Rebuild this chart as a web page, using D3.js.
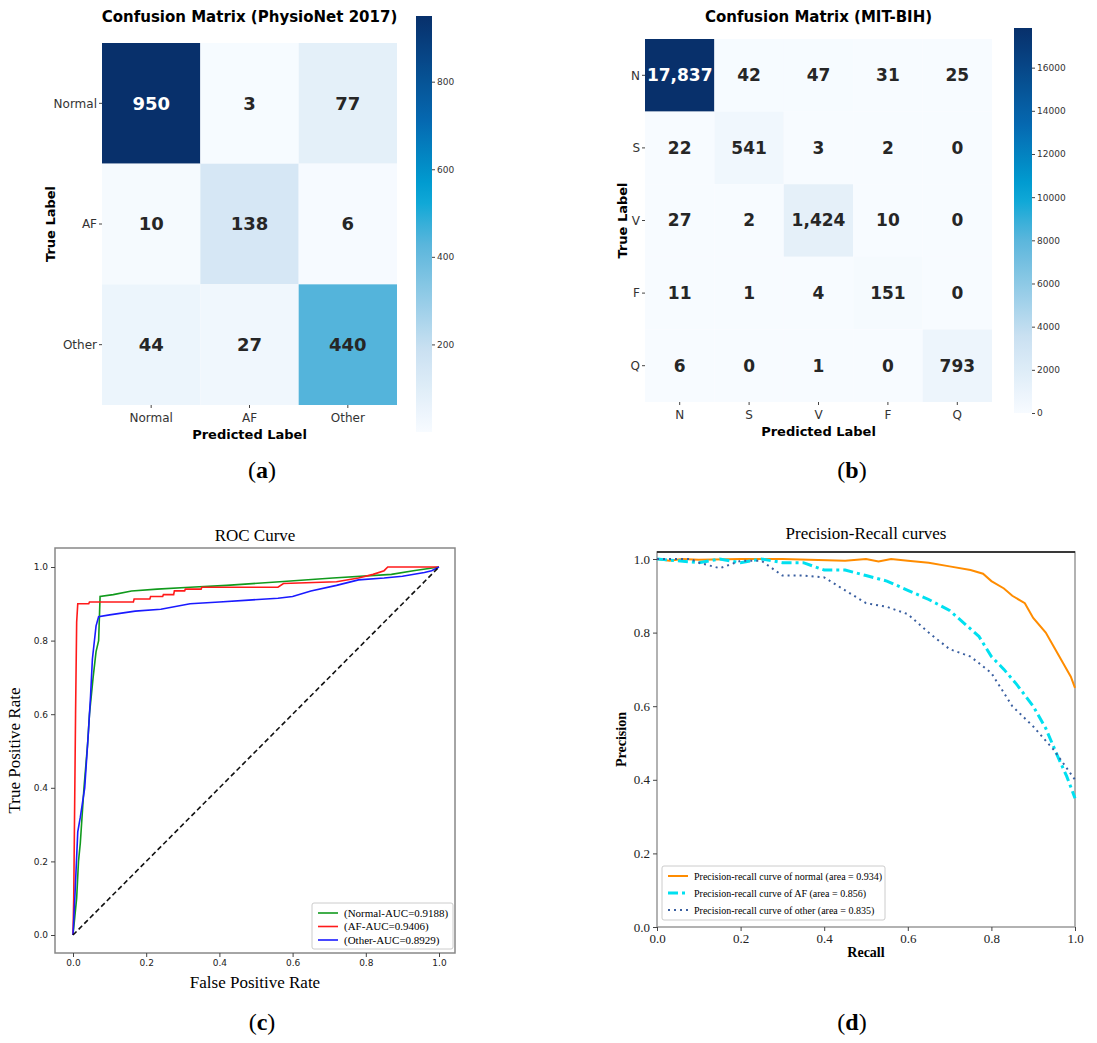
<!DOCTYPE html>
<html>
<head>
<meta charset="utf-8">
<script src="https://d3js.org/d3.v7.min.js"></script>
<style>
  body { margin: 0; background: #fff; }
  .sans { font-family: "DejaVu Sans", sans-serif; }
  .serif { font-family: "Liberation Serif", "Times New Roman", serif; }
</style>
</head>
<body>
<script>
// ---- data ----
var physioLabels = ["Normal", "AF", "Other"];
var physioMatrix = [[950, 3, 77], [10, 138, 6], [44, 27, 440]];
var physioTicks = [200, 400, 600, 800];

var mitLabels = ["N", "S", "V", "F", "Q"];
var mitMatrix = [
  [17837, 42, 47, 31, 25],
  [22, 541, 3, 2, 0],
  [27, 2, 1424, 10, 0],
  [11, 1, 4, 151, 0],
  [6, 0, 1, 0, 793]];
var mitTicks = [0, 2000, 4000, 6000, 8000, 10000, 12000, 14000, 16000];

var rocNormal = [[0,0],[0.005,0.05],[0.01,0.1],[0.015,0.2],[0.02,0.25],[0.03,0.4],[0.04,0.52],[0.045,0.6],[0.055,0.7],[0.063,0.77],[0.07,0.8],[0.074,0.92],[0.11,0.925],[0.16,0.935],[0.23,0.94],[0.32,0.945],[0.42,0.95],[0.565,0.96],[0.71,0.97],[0.87,0.98],[0.93,0.99],[1,1]];
var rocAF = [[0,0],[0.002,0.1],[0.004,0.3],[0.007,0.6],[0.01,0.85],[0.013,0.9],[0.043,0.9],[0.045,0.905],[0.165,0.905],[0.167,0.913],[0.21,0.913],[0.212,0.92],[0.245,0.92],[0.247,0.925],[0.275,0.925],[0.277,0.935],[0.305,0.935],[0.307,0.94],[0.35,0.94],[0.352,0.945],[0.56,0.945],[0.575,0.955],[0.72,0.96],[0.78,0.97],[0.82,0.98],[0.85,0.99],[0.86,1],[1,1]];
var rocOther = [[0,0],[0.005,0.1],[0.013,0.28],[0.02,0.32],[0.032,0.4],[0.042,0.55],[0.048,0.65],[0.053,0.75],[0.063,0.84],[0.07,0.865],[0.1,0.87],[0.17,0.88],[0.24,0.885],[0.32,0.9],[0.4,0.905],[0.48,0.91],[0.56,0.915],[0.6,0.92],[0.65,0.935],[0.72,0.95],[0.78,0.965],[0.85,0.97],[0.9,0.975],[0.96,0.985],[0.98,0.99],[1,1]];
var rocChance = [[0,0],[1,1]];

var prNormal = [[0,1],[0.03,0.995],[0.06,1],[0.1,0.998],[0.2,1],[0.3,1],[0.45,0.995],[0.5,1],[0.53,0.993],[0.56,1],[0.6,0.995],[0.65,0.99],[0.7,0.98],[0.75,0.97],[0.78,0.96],[0.8,0.94],[0.83,0.92],[0.85,0.9],[0.88,0.88],[0.9,0.84],[0.93,0.8],[0.95,0.76],[0.97,0.72],[0.99,0.68],[1,0.65]];
var prAF = [[0,1],[0.1,0.99],[0.15,1],[0.2,0.99],[0.25,1],[0.3,0.99],[0.35,0.99],[0.4,0.97],[0.45,0.97],[0.5,0.955],[0.55,0.94],[0.6,0.915],[0.65,0.89],[0.7,0.86],[0.75,0.81],[0.77,0.79],[0.8,0.735],[0.83,0.7],[0.86,0.66],[0.9,0.6],[0.93,0.54],[0.96,0.46],[0.98,0.41],[1,0.35]];
var prOther = [[0,1],[0.08,1],[0.1,0.99],[0.15,0.975],[0.2,0.995],[0.25,0.995],[0.3,0.955],[0.35,0.955],[0.4,0.95],[0.45,0.915],[0.5,0.88],[0.55,0.87],[0.6,0.85],[0.65,0.8],[0.7,0.755],[0.75,0.735],[0.8,0.69],[0.85,0.6],[0.9,0.545],[0.95,0.48],[1,0.4]];

var svg = d3.select("body").append("svg").attr("width", 1097).attr("height", 1043);

var cmap = d3.scaleLinear()
  .domain([0, 0.2, 0.46, 0.57, 0.75, 1])
  .range(["#f7fbff", "#c9e0f1", "#56b4db", "#00a5d6", "#0568b0", "#08306b"])
  .interpolate(d3.interpolateRgb);

function confusion(o) {
  var g = svg.append("g").attr("class", "sans");
  var n = o.labels.length;
  var x = d3.scaleBand().domain(d3.range(n)).range([o.x0, o.x1]);
  var y = d3.scaleBand().domain(d3.range(n)).range([o.y0, o.y1]);
  var vmax = d3.max(o.matrix, function(r) { return d3.max(r); });
  var cells = [];
  o.matrix.forEach(function(r, i) { r.forEach(function(v, j) { cells.push({i: i, j: j, v: v}); }); });
  g.selectAll("rect.cell").data(cells).enter().append("rect")
    .attr("x", function(d) { return x(d.j); }).attr("y", function(d) { return y(d.i); })
    .attr("width", x.bandwidth()).attr("height", y.bandwidth())
    .attr("fill", function(d) { return cmap(d.v / vmax); });
  g.selectAll("text.val").data(cells).enter().append("text")
    .attr("x", function(d) { return x(d.j) + x.bandwidth() / 2; })
    .attr("y", function(d) { return y(d.i) + y.bandwidth() / 2; })
    .attr("dy", "0.35em").attr("text-anchor", "middle")
    .attr("font-size", o.valSize).attr("font-weight", "bold")
    .attr("fill", function(d) { return d.v / vmax > 0.6 ? "#fff" : "#262626"; })
    .text(function(d) { return d3.format(",")(d.v); });
  o.labels.forEach(function(l, i) {
    var cy = y(i) + y.bandwidth() / 2;
    g.append("line").attr("x1", o.x0 - 3).attr("x2", o.x0).attr("y1", cy).attr("y2", cy).attr("stroke", "#444");
    g.append("text").attr("x", o.x0 - 5).attr("y", cy).attr("dy", "0.35em").attr("text-anchor", "end")
      .attr("font-size", 12).attr("fill", "#333").text(l);
    var cx = x(i) + x.bandwidth() / 2;
    g.append("line").attr("x1", cx).attr("x2", cx).attr("y1", o.y1).attr("y2", o.y1 + 3).attr("stroke", "#444");
    g.append("text").attr("x", cx).attr("y", o.y1 + 17).attr("text-anchor", "middle")
      .attr("font-size", 12).attr("fill", "#333").text(l);
  });
  g.append("text").attr("x", (o.x0 + o.x1) / 2).attr("y", o.titleY).attr("text-anchor", "middle")
    .attr("font-size", 15).attr("font-weight", "bold").text(o.title);
  g.append("text").attr("x", (o.x0 + o.x1) / 2).attr("y", o.y1 + 34).attr("text-anchor", "middle")
    .attr("font-size", 13).attr("font-weight", "bold").text("Predicted Label");
  g.append("text").attr("transform", "translate(" + o.ylabX + "," + (o.y0 + o.y1) / 2 + ") rotate(-90)")
    .attr("text-anchor", "middle").attr("font-size", 13).attr("font-weight", "bold").text("True Label");
  var id = "grad" + o.id;
  var grad = svg.append("defs").append("linearGradient").attr("id", id)
    .attr("x1", 0).attr("y1", 1).attr("x2", 0).attr("y2", 0);
  d3.range(0, 1.01, 0.05).forEach(function(t) {
    grad.append("stop").attr("offset", t).attr("stop-color", cmap(t));
  });
  var cs = d3.scaleLinear().domain([0, vmax]).range([o.cbY1, o.cbY0]);
  g.append("rect").attr("x", o.cbX).attr("y", o.cbY0).attr("width", o.cbW).attr("height", o.cbY1 - o.cbY0)
    .attr("fill", "url(#" + id + ")");
  var ax = g.append("g").attr("transform", "translate(" + (o.cbX + o.cbW) + ",0)")
    .call(d3.axisRight(cs).tickValues(o.ticks).tickFormat(d3.format("d")).tickSize(3).tickPadding(2));
  ax.select(".domain").remove();
  ax.selectAll("text").attr("font-size", 9).attr("fill", "#333").attr("font-family", "DejaVu Sans");
  ax.selectAll("line").attr("stroke", "#444");
}

confusion({id: "a", labels: physioLabels, matrix: physioMatrix, ticks: physioTicks, valSize: 18,
  x0: 102, x1: 397, y0: 43, y1: 405, title: "Confusion Matrix (PhysioNet 2017)", titleY: 22, ylabX: 55,
  cbX: 416, cbW: 16, cbY0: 16, cbY1: 432});
confusion({id: "b", labels: mitLabels, matrix: mitMatrix, ticks: mitTicks, valSize: 17,
  x0: 645, x1: 992, y0: 39, y1: 402, title: "Confusion Matrix (MIT-BIH)", titleY: 22, ylabX: 627,
  cbX: 1014, cbW: 18, cbY0: 28, cbY1: 413});

function lineChart(o) {
  var g = svg.append("g").attr("class", "serif");
  var x = d3.scaleLinear().domain([0, 1]).range(o.xr);
  var y = d3.scaleLinear().domain([0, 1]).range(o.yr);
  var line = d3.line().x(function(d) { return x(d[0]); }).y(function(d) { return y(d[1]); });
  g.append("rect").attr("x", o.fx0).attr("y", o.fy0).attr("width", o.fx1 - o.fx0).attr("height", o.fy1 - o.fy0)
    .attr("fill", "none").attr("stroke", o.frame).attr("stroke-width", 1.5);
  o.series.forEach(function(s) {
    g.append("path").datum(s.data).attr("d", line).attr("fill", "none").attr("stroke", s.color)
      .attr("stroke-width", s.width).attr("stroke-dasharray", s.dash || null);
  });
  var xa = g.append("g").attr("transform", "translate(0," + o.fy1 + ")")
    .call(d3.axisBottom(x).tickValues([0, 0.2, 0.4, 0.6, 0.8, 1]).tickFormat(d3.format(".1f")).tickSize(o.tick));
  var ya = g.append("g").attr("transform", "translate(" + o.fx0 + ",0)")
    .call(d3.axisLeft(y).tickValues([0, 0.2, 0.4, 0.6, 0.8, 1]).tickFormat(d3.format(".1f")).tickSize(o.tick));
  [xa, ya].forEach(function(a) {
    a.select(".domain").remove();
    a.selectAll("text").attr("font-family", o.tickFont).attr("font-size", o.tickSize).attr("fill", "#222");
    a.selectAll("line").attr("stroke", "#444");
  });
  g.append("text").attr("x", (o.fx0 + o.fx1) / 2).attr("y", o.titleY).attr("text-anchor", "middle")
    .attr("font-size", 17).text(o.title);
  g.append("text").attr("x", (o.fx0 + o.fx1) / 2).attr("y", o.xlabY).attr("text-anchor", "middle")
    .attr("font-size", o.labSize).attr("font-weight", o.labWeight).text(o.xlab);
  g.append("text").attr("transform", "translate(" + o.ylabX + "," + (o.fy0 + o.fy1) / 2 + ") rotate(-90)")
    .attr("text-anchor", "middle").attr("font-size", o.labSize).attr("font-weight", o.labWeight).text(o.ylab);
  var L = o.legend;
  var named = o.series.filter(function(s) { return s.name; });
  g.append("rect").attr("x", L.x).attr("y", L.y).attr("width", L.w).attr("height", L.h)
    .attr("fill", "#fff").attr("stroke", "#ccc").attr("rx", 2);
  named.forEach(function(s, i) {
    var yy = L.y + 10 + i * L.step;
    g.append("line").attr("x1", L.x + 6).attr("x2", L.x + 6 + L.len).attr("y1", yy).attr("y2", yy)
      .attr("stroke", s.color).attr("stroke-width", s.width).attr("stroke-dasharray", s.dash || null);
    g.append("text").attr("x", L.x + 12 + L.len).attr("y", yy).attr("dy", "0.35em")
      .attr("font-size", L.font).text(s.name);
  });
}

lineChart({title: "ROC Curve", titleY: 541, xr: [73, 439], yr: [935, 567],
  fx0: 55, fx1: 455, fy0: 548, fy1: 953, frame: "#888", tick: 4, tickFont: "DejaVu Sans", tickSize: 9,
  xlab: "False Positive Rate", ylab: "True Positive Rate", xlabY: 988, ylabX: 20, labSize: 17, labWeight: "normal",
  series: [
    {name: "(Normal-AUC=0.9188)", data: rocNormal, color: "#119a1d", width: 1.6},
    {name: "(AF-AUC=0.9406)", data: rocAF, color: "#ff1a1a", width: 1.6},
    {name: "(Other-AUC=0.8929)", data: rocOther, color: "#1a1aff", width: 1.6},
    {name: null, data: rocChance, color: "#111", width: 1.6, dash: "5,3"}
  ],
  legend: {x: 312, y: 903, w: 141, h: 46, step: 13.5, len: 20, font: 11}});

lineChart({title: "Precision-Recall curves", titleY: 539, xr: [657, 1075], yr: [927, 559],
  fx0: 657, fx1: 1075, fy0: 552, fy1: 927, frame: "#999", tick: 4, tickFont: "Liberation Serif", tickSize: 13,
  xlab: "Recall", ylab: "Precision", xlabY: 957, ylabX: 626, labSize: 14, labWeight: "bold",
  series: [
    {name: "Precision-recall curve of normal (area = 0.934)", data: prNormal, color: "#ff8c00", width: 2},
    {name: "Precision-recall curve of AF (area = 0.856)", data: prAF, color: "#00e0f0", width: 3, dash: "10,4,3,4"},
    {name: "Precision-recall curve of other (area = 0.835)", data: prOther, color: "#3a5fa0", width: 2, dash: "2,4"}
  ],
  legend: {x: 662, y: 866, w: 223, h: 54, step: 17, len: 20, font: 10}});
svg.append("line").attr("x1", 657).attr("x2", 1075).attr("y1", 552).attr("y2", 552).attr("stroke", "#111").attr("stroke-width", 1.5);

[["a", 262, 478], ["b", 852, 478], ["c", 262, 1030], ["d", 852, 1030]].forEach(function(c) {
  var t = svg.append("text").attr("class", "serif").attr("x", c[1]).attr("y", c[2])
    .attr("text-anchor", "middle").attr("font-size", 24);
  t.append("tspan").text("(");
  t.append("tspan").attr("font-weight", "bold").text(c[0]);
  t.append("tspan").text(")");
});
</script>
</body>
</html>
